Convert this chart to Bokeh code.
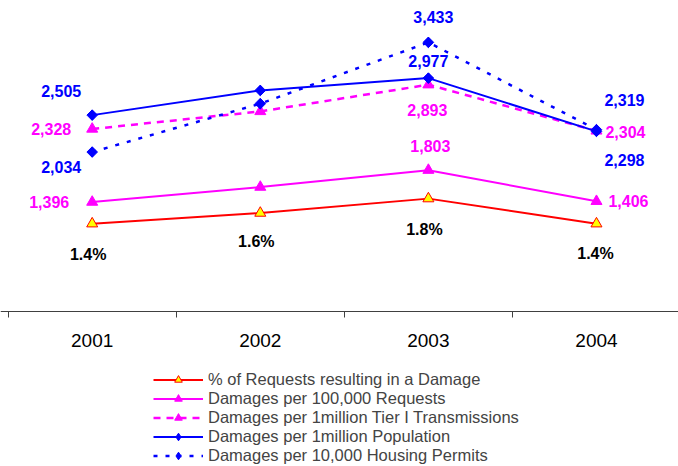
import numpy as np
from bokeh.plotting import figure
from bokeh.models import (ColumnDataSource, Range1d, LinearAxis, FixedTicker,
                          Legend, LegendItem)
from bokeh.core.properties import value
from bokeh.embed import file_html
from bokeh.resources import INLINE

# ---------------- data ----------------
years = ["2001", "2002", "2003", "2004"]
pct_requests_damage = [1.4, 1.57, 1.8, 1.4]          # %
damages_per_100k_requests = [1396, 1587, 1803, 1406]
damages_per_1m_tier1 = [2328, 2552, 2893, 2304]
damages_per_1m_population = [2505, 2820, 2977, 2298]
damages_per_10k_housing = [2034, 2651, 3433, 2319]

series_names = [
    "% of Requests resulting in a Damage",
    "Damages per 100,000 Requests",
    "Damages per 1million Tier I Transmissions",
    "Damages per 1million Population",
    "Damages per 10,000 Housing Permits",
]

# which points carry a data label
labelled_damage_points = [0, 2, 3]
labelled_pct_points = [0, 1, 2, 3]

# ---------------- styles ----------------
FONT = "Liberation Sans"
RED, MAGENTA, BLUE, YELLOW = "#FF0000", "#FF00FF", "#0000FF", "#FFFF00"

# label offsets in screen px (dx, dy) per labelled point
off_pop = [(-31, -24), (0, -17), (28, 29)]
off_housing = [(-31, 15), (5, -25), (28, -30)]
off_tier = [(-41, 0), (-1, 25), (29, 1)]
off_100k = [(-43, 0), (2, -24), (32, 0)]
off_pct = [(-4, 31), (-4, 28), (-4, 31), (-1, 30)]

x = list(range(len(years)))

p = figure(width=678, height=466, x_range=Range1d(-0.5455, 3.488),
           y_range=Range1d(-1977, 3967), output_backend="svg",
           toolbar_location=None, x_axis_location=None, y_axis_location=None,
           min_border=0, outline_line_color=None)
p.min_border_left = p.min_border_right = p.min_border_top = p.min_border_bottom = 0
p.extra_y_ranges = {"pct": Range1d(-2.471, 4.959)}
p.grid.visible = False

# x axis drawn at y=0 with ticks between categories
xaxis = LinearAxis(fixed_location=0,
                   ticker=FixedTicker(ticks=x, minor_ticks=[-0.5, 0.5, 1.5, 2.5, 3.5]),
                   major_label_overrides={i: y for i, y in enumerate(years)})
xaxis.major_tick_out = 0
xaxis.major_tick_in = 0
xaxis.minor_tick_out = 6
xaxis.minor_tick_in = 0
xaxis.axis_line_color = "#404040"
xaxis.minor_tick_line_color = "#404040"
xaxis.major_label_text_font = FONT
xaxis.major_label_text_font_size = "19px"
xaxis.major_label_text_color = "#000000"
xaxis.major_label_standoff = 16
p.add_layout(xaxis, "below")

items = []

def add_series(vals, name, color, dash, marker, fill, size, rng="default", lw=2,
               diamond=False):
    src = ColumnDataSource(dict(x=x, y=vals))
    ln = p.line("x", "y", source=src, line_color=color, line_width=lw,
                line_dash=dash, y_range_name=rng)
    sc = p.scatter("x", "y", source=src, marker=marker, size=size,
                   fill_color=fill, line_color=color, line_width=1, y_range_name=rng)
    if diamond:
        # rotated square on top gives an even diamond in the plot
        p.scatter("x", "y", source=src, marker="square", size=7.5, angle=np.pi / 4,
                  fill_color=fill, line_color=color, line_width=1, y_range_name=rng)
    items.append(LegendItem(label=name, renderers=[ln, sc]))

add_series(pct_requests_damage, series_names[0], RED, "solid", "triangle", YELLOW, 11, rng="pct")
add_series(damages_per_100k_requests, series_names[1], MAGENTA, "solid", "triangle", MAGENTA, 11)
add_series(damages_per_1m_tier1, series_names[2], MAGENTA, "7 6", "triangle", MAGENTA, 11, lw=2.5)
add_series(damages_per_1m_population, series_names[3], BLUE, "solid", "diamond", BLUE, 10, diamond=True)
add_series(damages_per_10k_housing, series_names[4], BLUE, "4 8", "diamond", BLUE, 10, lw=2.5, diamond=True)


def add_labels(vals, idx, offsets, color, fmt, rng="default"):
    src = ColumnDataSource(dict(
        x=[x[i] for i in idx],
        y=[vals[i] for i in idx],
        t=[fmt(vals[i]) for i in idx],
        dx=[o[0] for o in offsets],
        dy=[o[1] for o in offsets],
    ))
    p.text("x", "y", text="t", source=src, x_offset="dx", y_offset="dy",
           text_align="center", text_baseline="middle", text_color=color,
           text_font=value(FONT), text_font_size="16px", text_font_style="bold",
           y_range_name=rng)

comma = lambda v: f"{v:,.0f}"
add_labels(damages_per_1m_population, labelled_damage_points, off_pop, BLUE, comma)
add_labels(damages_per_10k_housing, labelled_damage_points, off_housing, BLUE, comma)
add_labels(damages_per_1m_tier1, labelled_damage_points, off_tier, MAGENTA, comma)
add_labels(damages_per_100k_requests, labelled_damage_points, off_100k, MAGENTA, comma)
add_labels(pct_requests_damage, labelled_pct_points, off_pct, "#000000",
           lambda v: f"{v:.1f}%", rng="pct")

legend = Legend(items=items, location=(153, 1), orientation="vertical",
                label_text_font=FONT, label_text_font_size="16.5px",
                glyph_width=50, glyph_height=19, label_height=19, spacing=0,
                padding=0, margin=0, label_standoff=5,
                border_line_color=None, background_fill_alpha=0)
p.add_layout(legend)

open("out.html", "w").write(file_html(p, INLINE))
